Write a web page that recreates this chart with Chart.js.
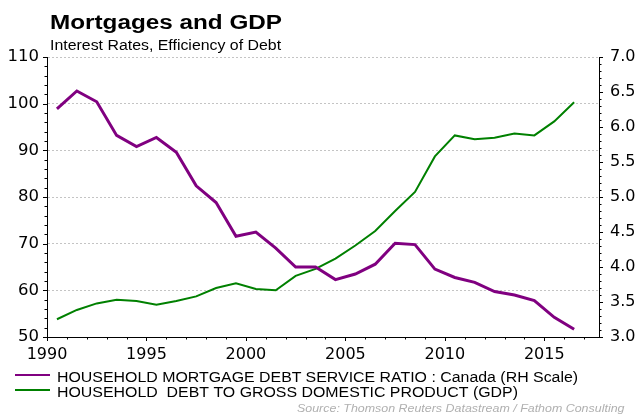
<!DOCTYPE html>
<html><head><meta charset="utf-8">
<script src="https://cdn.jsdelivr.net/npm/chart.js@4"></script>
<style>
body{margin:0;background:#fff;font-family:"Liberation Sans",Arial,sans-serif;}
#wrap{position:relative;width:637px;height:414px;overflow:hidden;}
#c{position:absolute;left:0;top:0;}
.t{position:absolute;white-space:nowrap;color:#000;line-height:1;transform-origin:0 0;}
.sw{position:absolute;left:15px;width:35px;}
</style></head><body>
<div id="wrap">
<canvas id="c" width="637" height="414"></canvas>
<div class="t" style="left:49.5px;top:12.5px;font-weight:bold;font-size:19.5px;transform:scaleX(1.245);">Mortgages and GDP</div>
<div class="t" style="left:49.5px;top:38.2px;font-size:14px;transform:scaleX(1.135);">Interest Rates, Efficiency of Debt</div>
<div class="sw" style="top:373.5px;border-top:2.5px solid #800080;"></div>
<div class="t" style="left:57px;top:369.5px;font-size:14px;transform:scaleX(1.136);" id="l1"></div>
<div class="sw" style="top:389px;border-top:2px solid #008000;"></div>
<div class="t" style="left:57px;top:385.2px;font-size:14px;transform:scaleX(1.136);" id="l2"></div>
<div class="t" style="left:297px;top:402.8px;font-size:11px;font-style:italic;color:#b0b0b0;transform:scaleX(1.13);">Source: Thomson Reuters Datastream / Fathom Consulting</div>
</div>
<script>
const years = [1990,1991,1992,1993,1994,1995,1996,1997,1998,1999,2000,2001,2002,2003,2004,2005,2006,2007,2008,2009,2010,2011,2012,2013,2014,2015,2016];
const serviceRatio = [6.26,6.515,6.36,5.88,5.72,5.85,5.64,5.16,4.92,4.44,4.50,4.27,4.00,4.00,3.82,3.90,4.04,4.34,4.32,3.97,3.85,3.78,3.65,3.60,3.52,3.28,3.11];
const debtToGdp = [53.8,55.8,57.2,58.0,57.7,56.9,57.7,58.7,60.5,61.5,60.3,60.0,63.1,64.6,66.8,69.6,72.7,77.0,81.1,88.7,93.2,92.4,92.7,93.6,93.2,96.2,100.3];
const seriesNames = ["HOUSEHOLD MORTGAGE DEBT SERVICE RATIO : Canada (RH Scale)", "HOUSEHOLD  DEBT TO GROSS DOMESTIC PRODUCT (GDP)"];
const xTicks = [1990,1995,2000,2005,2010,2015];
const leftTicks = [50,60,70,80,90,100,110];
const rightTicks = ["3.0","3.5","4.0","4.5","5.0","5.5","6.0","6.5","7.0"];

document.getElementById('l1').textContent = seriesNames[0];
document.getElementById('l2').textContent = seriesNames[1].replace(/ /g,'\u00a0');

const FONT = {family:'"DejaVu Sans", sans-serif', size:16};

const minorTicks = {
  id:'minorTicks',
  afterDraw(chart){
    const ctx = chart.ctx, x = chart.scales.x, y = chart.scales.y, y2 = chart.scales.y2;
    ctx.save();
    ctx.strokeStyle = '#000'; ctx.lineWidth = 1;
    ctx.beginPath();
    for (let v = 50; v <= 110; v += 2) {
      const p = Math.round(y.getPixelForValue(v)) + 0.5;
      const len = (v % 10 === 0) ? 4 : 2.5;
      ctx.moveTo(y.right, p); ctx.lineTo(y.right - len, p);
    }
    for (let k = 30; k <= 70; k += 1) {
      const p = Math.round(y2.getPixelForValue(k/10)) + 0.5;
      const len = (k % 5 === 0) ? 4 : 2.5;
      ctx.moveTo(y2.left, p); ctx.lineTo(y2.left + len, p);
    }
    for (let v = 1990; v <= 2017; v += 1) {
      const p = Math.round(x.getPixelForValue(v)) + 0.5;
      const len = (v % 5 === 0) ? 4 : 2.5;
      ctx.moveTo(p, x.top); ctx.lineTo(p, x.top + len);
    }
    ctx.stroke();
    ctx.restore();
  }
};

new Chart(document.getElementById('c'), {
  type:'line',
  data:{
    datasets:[
      {label:seriesNames[0], data:years.map((yr,i)=>({x:yr+0.5, y:serviceRatio[i]})), yAxisID:'y2',
       borderColor:'#800080', borderWidth:3, pointRadius:0, tension:0, order:0},
      {label:seriesNames[1], data:years.map((yr,i)=>({x:yr+0.5, y:debtToGdp[i]})), yAxisID:'y',
       borderColor:'#008000', borderWidth:2, pointRadius:0, tension:0, order:1}
    ]
  },
  plugins:[minorTicks],
  options:{
    responsive:false, animation:false, devicePixelRatio:1,
    layout:{padding:{top:57,bottom:0,left:0,right:0}},
    plugins:{legend:{display:false}, tooltip:{enabled:false}},
    scales:{
      x:{type:'linear', min:1990, max:2017.75,
         afterBuildTicks(s){ s.ticks = xTicks.map(v=>({value:v})); },
         afterFit(s){ s.height = 77; },
         grid:{display:false, drawTicks:false},
         border:{display:true, color:'#000', width:1},
         ticks:{color:'#000', font:FONT, padding:8, maxRotation:0, autoSkip:false, callback:v=>String(v)}},
      y:{type:'linear', position:'left', min:50, max:110,
         afterBuildTicks(s){ s.ticks = leftTicks.map(v=>({value:v})); },
         afterFit(s){ s.width = 47; },
         grid:{display:true, drawTicks:false, color:'#c4c4c4', lineWidth:1},
         border:{display:true, color:'#000', width:1, dash:[2,2]},
         ticks:{color:'#000', font:{family:FONT.family, size:16.5}, padding:8, callback:v=>String(v)}},
      y2:{type:'linear', position:'right', min:3, max:7,
         afterBuildTicks(s){ s.ticks = rightTicks.map(v=>({value:parseFloat(v)})); },
         afterFit(s){ s.width = 38; },
         grid:{display:false, drawTicks:false},
         border:{display:true, color:'#000', width:1},
         ticks:{color:'#000', font:FONT, padding:11, callback:v=>Number(v).toFixed(1)}}
    }
  }
});
</script>
</body></html>
